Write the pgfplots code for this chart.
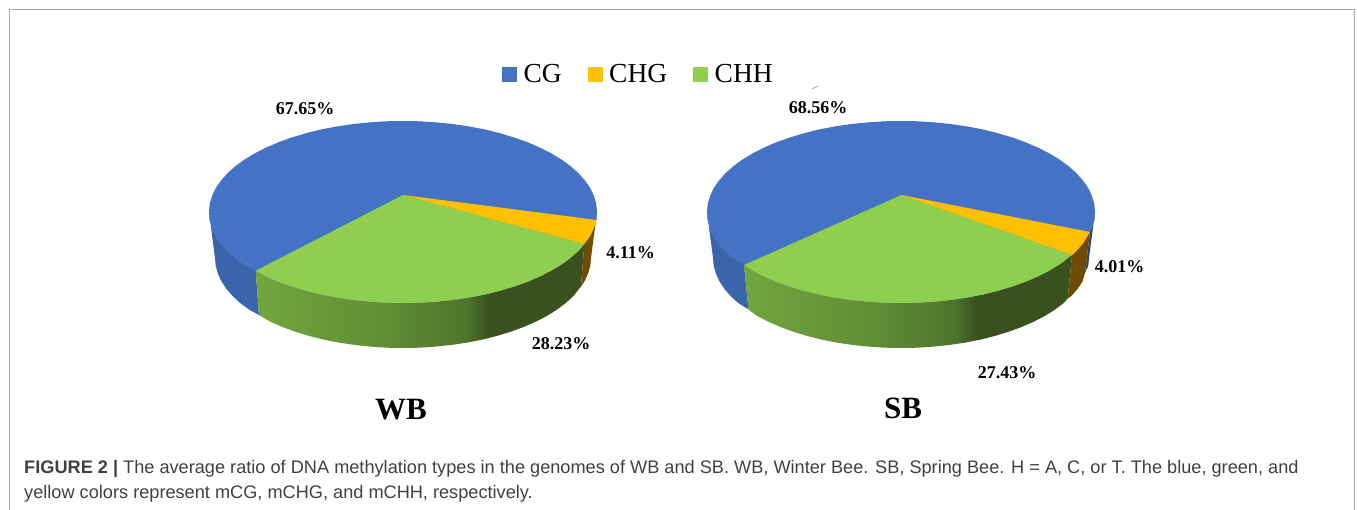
\documentclass[border=0pt]{standalone}
\usepackage{fontspec}
\setmainfont{Liberation Serif}
\newfontfamily\capfont{Liberation Sans}
\usepackage{pgfplots}
\pgfplotsset{compat=1.18}
\definecolor{cgblue}{HTML}{4472C4}
\definecolor{cgwall}{HTML}{3A64AB}
\definecolor{chgyel}{HTML}{FFC000}
\definecolor{chgwall}{HTML}{6E4C00}
\definecolor{chhgrn}{HTML}{8FCF50}
\definecolor{frame}{HTML}{A8A8A8}
\definecolor{captxt}{HTML}{404040}
\definecolor{green1}{HTML}{72A63F}
\definecolor{green2}{HTML}{5F8D35}
\definecolor{green3}{HTML}{4F742C}
\definecolor{green4}{HTML}{38511F}
\pgfdeclarehorizontalshading{greenwall}{100bp}{
 color(0bp)=(green1); color(25bp)=(green1); color(45bp)=(green2); color(57bp)=(green3); color(60.5bp)=(green4); color(100bp)=(green4)}
\begin{document}
\begin{tikzpicture}[x=1pt,y=1pt]
\path[use as bounding box] (0,0) rectangle (1357,510);
\begin{axis}[at={(0,0)},anchor=south west,scale only axis,width=1357pt,height=510pt,
 xmin=0,xmax=1357,ymin=0,ymax=510,y dir=reverse,hide axis,clip=false,
 every axis plot/.append style={forget plot},
 legend columns=3,
 legend cell align=left,
 legend style={at={(axis cs:502,62)},anchor=north west,draw=none,fill=none,font=\fontsize{27.5}{30}\selectfont,
   inner sep=0pt,/tikz/every even column/.style={column sep=24pt},/tikz/every odd column/.style={column sep=5pt}},
 legend image code/.code={\fill[#1] (0pt,-7pt) rectangle (14pt,7pt);},
]
% panel frame
\addplot[frame,line width=0.9pt] coordinates {(9.5,510) (9.5,9) (1354.5,9) (1354.5,510)};
% scan speck
\addplot[gray!70,line width=0.7pt] coordinates {(812,89)(818,86)};

% ---------- WB ----------
\addplot[fill=cgblue,draw=none] coordinates {
(597,212)(596.3,219.9)(594,227.8)(590.4,235.6)(585.3,243.1)(578.8,250.5)(571,257.5)(561.9,264.2)(551.6,270.5)(540.2,276.3)(527.7,281.7)(514.3,286.5)(500,290.8)(485,294.5)(469.3,297.5)(453.2,299.9)(436.7,301.6)(419.9,302.7)(403,303)
(386.1,302.7)(369.3,301.6)(352.8,299.9)(336.7,297.5)(321,294.5)(306,290.8)(291.7,286.5)(278.3,281.7)(265.8,276.3)(254.4,270.5)(244.1,264.2)(235,257.5)(227.2,250.5)(220.7,243.1)(215.6,235.6)(212,227.8)(209.7,219.9)(209,212)
(209.7,204.1)(212,196.2)(215.6,188.4)(220.7,180.9)(227.2,173.5)(235,166.5)(244.1,159.8)(254.4,153.5)(265.8,147.7)(278.3,142.3)(291.7,137.5)(306,133.2)(321,129.5)(336.7,126.5)(352.8,124.1)(369.3,122.4)(386.1,121.3)(403,121)
(419.9,121.3)(436.7,122.4)(453.2,124.1)(469.3,126.5)(485,129.5)(500,133.2)(514.3,137.5)(527.7,142.3)(540.2,147.7)(551.6,153.5)(561.9,159.8)(571,166.5)(578.8,173.5)(585.3,180.9)(590.4,188.4)(594,196.2)(596.3,204.1)(597,212)};
\addplot[fill=cgwall,draw=none] coordinates {
(209,212)(209.7,219.9)(212,227.8)(215.6,235.6)(220.7,243.1)(227.2,250.5)(235,257.5)(244.1,264.2)(255.7,270.7)(259,315)(249,309.6)(240.2,303)(232.6,296)(226.3,288.8)(221.4,281.3)(217.9,273.6)(215.7,265.8)(215,258)};
\addplot[shading=greenwall,draw=none] coordinates {
(255.7,270.7)(265.8,276.3)(278.3,281.7)(291.7,286.5)(306,290.8)(321,294.5)(336.7,297.5)(352.8,299.9)(369.3,301.6)(386.1,302.7)(403,303)(419.9,302.7)(436.7,301.6)(453.2,299.9)(469.3,297.5)(485,294.5)(500,290.8)(514.3,286.5)(527.7,281.7)(540.2,276.3)(551.6,270.5)(561.9,264.2)(571,257.5)(578.8,250.5)(584.3,244)
(581,286.5)(573.4,296)(565.8,303)(557,309.6)(547,315.9)(535.9,321.6)(523.8,326.9)(510.8,331.7)(497,335.9)(482.5,339.6)(467.3,342.6)(451.7,344.9)(435.6,346.6)(419.4,347.7)(403,348)(386.6,347.7)(370.4,346.6)(354.3,344.9)(338.7,342.6)(323.5,339.6)(309,335.9)(295.2,331.7)(282.2,326.9)(270.1,321.6)(259,315)};
\addplot[fill=chgwall,draw=none] coordinates {
(584.3,244)(590.4,235.6)(594,227.8)(596.3,219.9)(597,212)(591,258)(590.3,265.8)(588.1,273.6)(584.6,281.3)(581,286.5)};
\addplot[fill=chhgrn,draw=none] coordinates {
(403,195)(584.3,244)(578.8,250.5)(571,257.5)(561.9,264.2)(551.6,270.5)(540.2,276.3)(527.7,281.7)(514.3,286.5)(500,290.8)(485,294.5)(469.3,297.5)(453.2,299.9)(436.7,301.6)(419.9,302.7)(403,303)(386.1,302.7)(369.3,301.6)(352.8,299.9)(336.7,297.5)(321,294.5)(306,290.8)(291.7,286.5)(278.3,281.7)(265.8,276.3)(255.7,270.7)};
\addplot[fill=chgyel,draw=none] coordinates {
(403,195)(596.3,219.9)(594,227.8)(590.4,235.6)(584.3,244)};

% ---------- SB ----------
\addplot[fill=cgblue,draw=none] coordinates {
(1095,212)(1094.3,219.9)(1092,227.8)(1088.4,235.6)(1083.3,243.1)(1076.8,250.5)(1069,257.5)(1059.9,264.2)(1049.6,270.5)(1038.2,276.3)(1025.7,281.7)(1012.3,286.5)(998,290.8)(983,294.5)(967.3,297.5)(951.2,299.9)(934.7,301.6)(917.9,302.7)(901,303)
(884.1,302.7)(867.3,301.6)(850.8,299.9)(834.7,297.5)(819,294.5)(804,290.8)(789.7,286.5)(776.3,281.7)(763.8,276.3)(752.4,270.5)(742.1,264.2)(733,257.5)(725.2,250.5)(718.7,243.1)(713.6,235.6)(710,227.8)(707.7,219.9)(707,212)
(707.7,204.1)(710,196.2)(713.6,188.4)(718.7,180.9)(725.2,173.5)(733,166.5)(742.1,159.8)(752.4,153.5)(763.8,147.7)(776.3,142.3)(789.7,137.5)(804,133.2)(819,129.5)(834.7,126.5)(850.8,124.1)(867.3,122.4)(884.1,121.3)(901,121)
(917.9,121.3)(934.7,122.4)(951.2,124.1)(967.3,126.5)(983,129.5)(998,133.2)(1012.3,137.5)(1025.7,142.3)(1038.2,147.7)(1049.6,153.5)(1059.9,159.8)(1069,166.5)(1076.8,173.5)(1083.3,180.9)(1088.4,188.4)(1092,196.2)(1094.3,204.1)(1095,212)};
\addplot[fill=cgwall,draw=none] coordinates {
(707,212)(707.7,219.9)(710,227.8)(713.6,235.6)(718.7,243.1)(725.2,250.5)(733,257.5)(744,265)(748.5,309.5)(738.2,303)(730.6,296)(724.3,288.8)(719.4,281.3)(715.9,273.6)(713.7,265.8)(713,258)};
\addplot[fill=cgwall!70!black,draw=none] coordinates {
(1090,232)(1092,227.8)(1094.3,219.9)(1095,212)(1089,258)(1088.3,265.8)(1085,273)};
\addplot[shading=greenwall,draw=none] coordinates {
(744,265)(752.4,270.5)(763.8,276.3)(776.3,281.7)(789.7,286.5)(804,290.8)(819,294.5)(834.7,297.5)(850.8,299.9)(867.3,301.6)(884.1,302.7)(901,303)(917.9,302.7)(934.7,301.6)(951.2,299.9)(967.3,297.5)(983,294.5)(998,290.8)(1012.3,286.5)(1025.7,281.7)(1038.2,276.3)(1049.6,270.5)(1059.9,264.2)(1072,255)
(1067.7,298.5)(1063.8,303)(1055,309.6)(1045,315.9)(1033.9,321.6)(1021.8,326.9)(1008.8,331.7)(995,335.9)(980.5,339.6)(965.3,342.6)(949.7,344.9)(933.6,346.6)(917.4,347.7)(901,348)(884.6,347.7)(868.4,346.6)(852.3,344.9)(836.7,342.6)(821.5,339.6)(807,335.9)(793.2,331.7)(780.2,326.9)(768.1,321.6)(757,315.9)(748.5,309.5)};
\addplot[fill=chgwall,draw=none] coordinates {
(1072,255)(1076.8,250.5)(1083.3,243.1)(1090,232)(1085,273)(1082.6,281.3)(1077.7,288.8)(1071.4,296)(1067.7,298.5)};
\addplot[fill=chhgrn,draw=none] coordinates {
(901.5,195)(1072,255)(1059.9,264.2)(1049.6,270.5)(1038.2,276.3)(1025.7,281.7)(1012.3,286.5)(998,290.8)(983,294.5)(967.3,297.5)(951.2,299.9)(934.7,301.6)(917.9,302.7)(901,303)(884.1,302.7)(867.3,301.6)(850.8,299.9)(834.7,297.5)(819,294.5)(804,290.8)(789.7,286.5)(776.3,281.7)(763.8,276.3)(752.4,270.5)(744,265)};
\addplot[fill=chgyel,draw=none] coordinates {
(901.5,195)(1090,232)(1083.3,243.1)(1076.8,250.5)(1072,255)};

% legend
\addlegendimage{legend image code/.code={\fill[cgblue] (0pt,-7pt) rectangle (14pt,7pt);}}
\addlegendentry{CG}
\addlegendimage{legend image code/.code={\fill[chgyel] (0pt,-7pt) rectangle (14pt,7pt);}}
\addlegendentry{CHG}
\addlegendimage{legend image code/.code={\fill[chhgrn] (0pt,-7pt) rectangle (14pt,7pt);}}
\addlegendentry{CHH}

% labels
\node[font=\bfseries\fontsize{18}{20}\selectfont] at (axis cs:305,109) {67.65\%};
\node[font=\bfseries\fontsize{18}{20}\selectfont] at (axis cs:630.5,253) {4.11\%};
\node[font=\bfseries\fontsize{18}{20}\selectfont] at (axis cs:561,344) {28.23\%};
\node[font=\bfseries\fontsize{18}{20}\selectfont] at (axis cs:818,108) {68.56\%};
\node[font=\bfseries\fontsize{18}{20}\selectfont] at (axis cs:1119.5,267) {4.01\%};
\node[font=\bfseries\fontsize{18}{20}\selectfont] at (axis cs:1007,373) {27.43\%};
\node[font=\bfseries\fontsize{31}{34}\selectfont] at (axis cs:401,410) {WB};
\node[font=\bfseries\fontsize{31}{34}\selectfont] at (axis cs:903,408) {SB};
% caption
\node[anchor=base west,text=captxt,font=\capfont\fontsize{18.17}{20}\selectfont] at (axis cs:20.7,473) {{\bfseries FIGURE 2 |} The average ratio of DNA methylation types in the genomes of WB and SB. WB, Winter Bee. SB, Spring Bee. H = A, C, or T. The blue, green, and};
\node[anchor=base west,text=captxt,font=\capfont\fontsize{18.17}{20}\selectfont] at (axis cs:20.7,498) {yellow colors represent mCG, mCHG, and mCHH, respectively.};
\end{axis}
\end{tikzpicture}
\end{document}
